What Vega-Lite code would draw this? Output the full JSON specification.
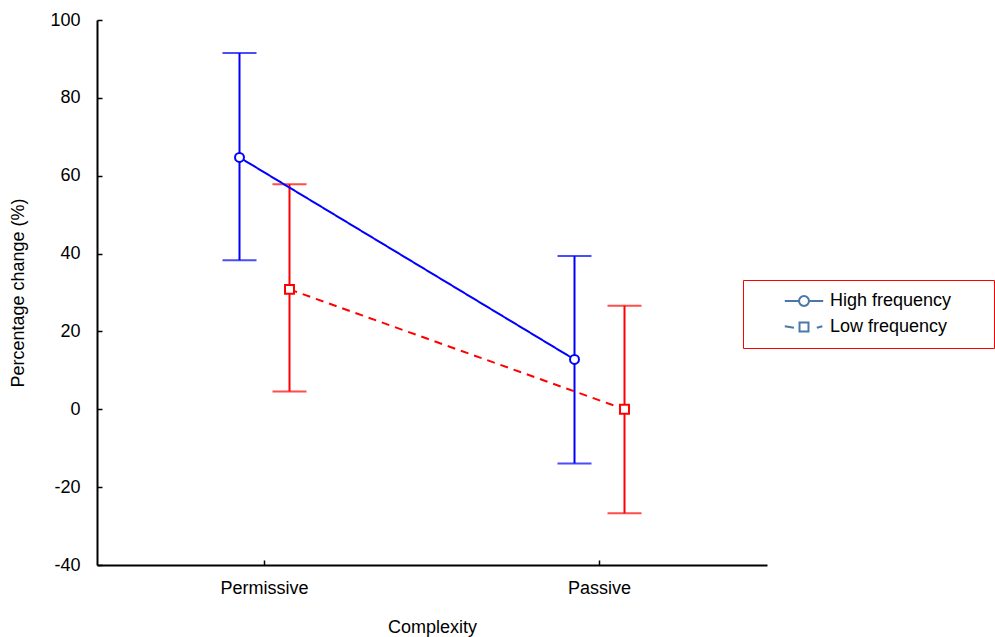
{
  "$schema": "https://vega.github.io/schema/vega-lite/v6.json",
  "autosize": "none",
  "width": 670,
  "height": 545,
  "padding": {"left": 97, "top": 20, "right": 228, "bottom": 72},
  "background": "white",
  "config": {
    "view": {"stroke": null},
    "font": "Liberation Sans",
    "axis": {
      "labelFont": "Liberation Sans", "titleFont": "Liberation Sans",
      "labelFontSize": 18, "titleFontSize": 18, "titleFontWeight": "normal",
      "labelColor": "black", "titleColor": "black",
      "domainColor": "black", "domainWidth": 2, "tickColor": "black", "tickWidth": 1.5,
      "tickSize": -5, "grid": false
    }
  },
  "data": {
    "values": [
      {"complexity": "Permissive", "series": "High frequency", "mean": 64.7, "lo": 38.3, "hi": 91.5},
      {"complexity": "Passive", "series": "High frequency", "mean": 12.8, "lo": -13.9, "hi": 39.4},
      {"complexity": "Permissive", "series": "Low frequency", "mean": 30.8, "lo": 4.6, "hi": 57.8},
      {"complexity": "Passive", "series": "Low frequency", "mean": 0, "lo": -26.7, "hi": 26.6}
    ]
  },
  "encoding": {
    "x": {
      "field": "complexity", "type": "nominal", "sort": ["Permissive", "Passive"],
      "scale": {"type": "band", "paddingInner": 0, "paddingOuter": 0},
      "axis": {"title": "Complexity", "labelAngle": 0, "labelPadding": 19, "titlePadding": 21}
    },
    "xOffset": {
      "field": "series", "type": "nominal",
      "scale": {"paddingInner": 0, "paddingOuter": 0, "range": [117.5, 217.5]}
    }
  },
  "resolve": {"scale": {"shape": "independent"}, "legend": {"shape": "independent"}},
  "layer": [
    {
      "mark": {"type": "rule", "strokeWidth": 2},
      "encoding": {
        "y": {"field": "lo", "type": "quantitative",
          "scale": {"domain": [-40, 100]},
          "axis": {"title": "Percentage change (%)", "values": [-40, -20, 0, 20, 40, 60, 80, 100],
            "labelExpr": "replace(datum.label, '\u2212', '-')", "labelPadding": 22, "titlePadding": 22}},
        "y2": {"field": "hi"},
        "color": {"field": "series", "type": "nominal",
          "scale": {"domain": ["High frequency", "Low frequency"], "range": ["#0000ff", "#ff0000"]}, "legend": null}
      }
    },
    {
      "mark": {"type": "tick", "size": 34, "thickness": 2, "orient": "horizontal"},
      "encoding": {"y": {"field": "lo", "type": "quantitative"},
        "color": {"field": "series", "type": "nominal", "legend": null}}
    },
    {
      "mark": {"type": "tick", "size": 34, "thickness": 2, "orient": "horizontal"},
      "encoding": {"y": {"field": "hi", "type": "quantitative"},
        "color": {"field": "series", "type": "nominal", "legend": null}}
    },
    {
      "mark": {"type": "line", "strokeWidth": 2},
      "encoding": {
        "y": {"field": "mean", "type": "quantitative"},
        "color": {"field": "series", "type": "nominal", "legend": null},
        "strokeDash": {"field": "series", "type": "nominal",
          "scale": {"domain": ["High frequency", "Low frequency"], "range": [[1, 0], [8, 6]]}, "legend": null}
      }
    },
    {
      "mark": {"type": "point", "filled": false, "fill": "white", "fillOpacity": 1, "strokeWidth": 2, "size": 80, "opacity": 1},
      "encoding": {
        "y": {"field": "mean", "type": "quantitative"},
        "color": {"field": "series", "type": "nominal", "legend": null},
        "shape": {"field": "series", "type": "nominal",
          "scale": {"domain": ["High frequency", "Low frequency"], "range": ["circle", "square"]}, "legend": null}
      }
    },
    {
      "mark": {"type": "point", "filled": false, "strokeWidth": 2, "size": 256, "opacity": 0},
      "encoding": {
        "y": {"field": "mean", "type": "quantitative"},
        "shape": {"field": "series", "type": "nominal",
          "scale": {"domain": ["High frequency", "Low frequency"],
            "range": ["M-2.4,0H-0.62M0.62,0H2.4M-0.62,0A0.62,0.62,0,1,1,0.62,0A0.62,0.62,0,1,1,-0.62,0Z",
                      "M-2.4,-0.1L-1.25,0.1M1.6,0.1L2.3,-0.1M-0.56,-0.56H0.56V0.56H-0.56Z"]},
          "legend": {
            "title": " ", "titleOrient": "right", "titlePadding": 31, "titleFontSize": 18,
            "orient": "none", "legendX": 646, "legendY": 260,
            "strokeColor": "#ff0000", "padding": 12,
            "symbolOffset": 40, "labelOffset": 17, "rowPadding": 8,
            "labelFont": "Liberation Sans", "labelFontSize": 18, "labelColor": "black",
            "symbolStrokeWidth": 2, "symbolSize": 256, "symbolOpacity": 1, "symbolFillColor": "transparent",
            "encode": {
              "symbols": {"stroke": {"condition": {"test": "datum.value === 'High frequency'", "value": "#0000ff"}, "value": "#ff0000"}},
              "legend": {"stroke": {"value": "#ff0000"}, "strokeWidth": {"value": 2}}
            }
          }
        }
      }
    }
  ]
}
